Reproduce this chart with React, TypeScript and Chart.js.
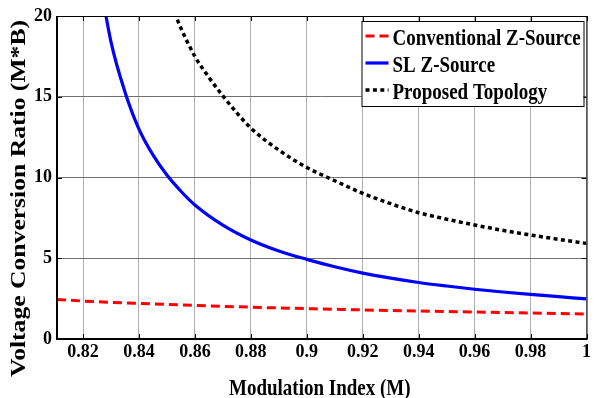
import React, { useEffect, useRef } from "react";
import { Chart, registerables } from "chart.js";

Chart.register(...registerables);

// ---- data ----
const xTickValues = [0.82, 0.84, 0.86, 0.88, 0.9, 0.92, 0.94, 0.96, 0.98, 1];
const yTickValues = [0, 5, 10, 15, 20];
const xMin = 0.8107;
const xMax = 1;
const yMin = 0;
const yMax = 20;

const convM = [0.8107, 0.82, 0.83, 0.84, 0.86, 0.88, 0.9, 0.92, 0.94, 0.96, 0.98, 1.0];
const convRatio = [2.45, 2.35, 2.27, 2.2, 2.08, 1.97, 1.88, 1.8, 1.73, 1.67, 1.61, 1.55];

const slM = [0.825, 0.83, 0.835, 0.84, 0.845, 0.85, 0.855, 0.86, 0.87, 0.88, 0.89, 0.9, 0.91, 0.92, 0.93, 0.94, 0.95, 0.96, 0.97, 0.98, 0.99, 1.0];
const slRatio = [23.2, 18.4, 15.3, 13.0, 11.4, 10.15, 9.15, 8.3, 7.05, 6.13, 5.45, 4.93, 4.47, 4.08, 3.77, 3.5, 3.28, 3.08, 2.91, 2.76, 2.62, 2.48];

const propM = [0.85, 0.8532, 0.855, 0.86, 0.865, 0.87, 0.875, 0.88, 0.89, 0.9, 0.91, 0.92, 0.93, 0.94, 0.95, 0.96, 0.97, 0.98, 0.99, 1.0];
const propRatio = [21.5, 20.0, 19.25, 17.5, 16.2, 15.05, 14.0, 13.06, 11.7, 10.62, 9.8, 9.02, 8.38, 7.82, 7.42, 7.06, 6.73, 6.44, 6.17, 5.92];

const seriesLabels = ["Conventional Z-Source", "SL Z-Source", "Proposed Topology"];
const xTitle = "Modulation Index (M)";
const yTitle = "Voltage Conversion Ratio (M*B)";

const FONT = '"Liberation Serif", "Times New Roman", serif';

const toPoints = (xs: number[], ys: number[]) => xs.map((x, i) => ({ x, y: ys[i] }));

const decorPlugin = {
  id: "decor",
  afterDatasetsDraw(chart: any) {
    const { ctx, chartArea: a, scales } = chart;
    ctx.save();
    // inward tick marks on all four sides
    ctx.strokeStyle = "#000";
    ctx.lineWidth = 1;
    ctx.setLineDash([]);
    ctx.beginPath();
    for (const v of xTickValues) {
      const px = Math.round(scales.x.getPixelForValue(v)) + 0.5;
      ctx.moveTo(px, a.bottom);
      ctx.lineTo(px, a.bottom - 5);
      ctx.moveTo(px, a.top);
      ctx.lineTo(px, a.top + 5);
    }
    for (const v of yTickValues) {
      const py = Math.round(scales.y.getPixelForValue(v)) + 0.5;
      ctx.moveTo(a.left, py);
      ctx.lineTo(a.left + 5, py);
      ctx.moveTo(a.right, py);
      ctx.lineTo(a.right - 5, py);
    }
    ctx.stroke();
    // frame: thin top/right, thick left/bottom
    ctx.beginPath();
    ctx.moveTo(a.left, a.top + 0.5);
    ctx.lineTo(a.right + 0.5, a.top + 0.5);
    ctx.lineTo(a.right + 0.5, a.bottom);
    ctx.stroke();
    ctx.lineWidth = 2;
    ctx.beginPath();
    ctx.moveTo(a.left, a.top);
    ctx.lineTo(a.left, a.bottom);
    ctx.lineTo(a.right + 1, a.bottom);
    ctx.stroke();

    // legend box
    const lx = a.right - 225;
    const ly = a.top + 5;
    const lw = 222;
    const lh = 85;
    ctx.fillStyle = "#fff";
    ctx.fillRect(lx, ly, lw, lh);
    ctx.lineWidth = 1;
    ctx.strokeStyle = "#000";
    ctx.strokeRect(lx + 0.5, ly + 0.5, lw, lh);
    chart.data.datasets.forEach((ds: any, i: number) => {
      const cy = ly + 15 + i * 27;
      ctx.save();
      ctx.strokeStyle = ds.borderColor;
      ctx.lineWidth = ds.borderWidth;
      ctx.setLineDash(ds.borderDash || []);
      ctx.beginPath();
      ctx.moveTo(lx + 4, cy);
      ctx.lineTo(lx + 27, cy);
      ctx.stroke();
      ctx.restore();
      ctx.save();
      ctx.fillStyle = "#000";
      ctx.font = `bold 19px ${FONT}`;
      ctx.textAlign = "left";
      ctx.textBaseline = "alphabetic";
      ctx.translate(lx + 31, cy + 9);
      ctx.scale(1, 1.2);
      ctx.fillText(ds.label, 0, 0);
      ctx.restore();
    });

    // x title
    ctx.save();
    ctx.fillStyle = "#000";
    ctx.font = `bold 19px ${FONT}`;
    ctx.textAlign = "center";
    ctx.textBaseline = "alphabetic";
    ctx.translate((a.left + a.right) / 2 - 2, 395);
    ctx.scale(1, 1.2);
    ctx.fillText(xTitle, 0, 0);
    ctx.restore();

    // y title
    ctx.save();
    ctx.fillStyle = "#000";
    ctx.font = `bold 22px ${FONT}`;
    ctx.textAlign = "center";
    ctx.textBaseline = "middle";
    const w = ctx.measureText(yTitle).width;
    ctx.translate(19, 198.5);
    ctx.rotate(-Math.PI / 2);
    ctx.scale(357 / w, 1);
    ctx.fillText(yTitle, 0, 0);
    ctx.restore();

    ctx.restore();
  },
};

export default function App() {
  const canvasRef = useRef<HTMLCanvasElement | null>(null);

  useEffect(() => {
    const canvas = canvasRef.current;
    if (!canvas) return;
    const chart = new Chart(canvas, {
      type: "line",
      data: {
        datasets: [
          {
            label: seriesLabels[0],
            data: toPoints(convM, convRatio),
            borderColor: "#ff0000",
            borderWidth: 3,
            borderDash: [9, 5],
            pointRadius: 0,
            cubicInterpolationMode: "monotone",
            fill: false,
            clip: 0,
          },
          {
            label: seriesLabels[1],
            data: toPoints(slM, slRatio),
            borderColor: "#0000ff",
            borderWidth: 3.2,
            pointRadius: 0,
            cubicInterpolationMode: "monotone",
            fill: false,
            clip: 0,
          },
          {
            label: seriesLabels[2],
            data: toPoints(propM, propRatio),
            borderColor: "#000000",
            borderWidth: 3.5,
            borderDash: [4, 3.4],
            pointRadius: 0,
            cubicInterpolationMode: "monotone",
            fill: false,
            clip: 0,
          },
        ],
      },
      options: {
        responsive: false,
        animation: false,
        devicePixelRatio: 1,
        layout: { autoPadding: false, padding: { left: 0, top: 16, right: 3, bottom: 0 } },
        plugins: { legend: { display: false }, tooltip: { enabled: false }, title: { display: false } },
        scales: {
          x: {
            type: "linear",
            min: xMin,
            max: xMax,
            border: { display: false },
            grid: { color: "#b0b0b0", lineWidth: 1, drawTicks: false },
            ticks: {
              color: "#000",
              font: { family: FONT, size: 18, weight: "bold" },
              padding: 3,
              maxRotation: 0,
              autoSkip: false,
              callback: (v: any) => String(parseFloat(Number(v).toFixed(2))),
            },
            afterBuildTicks: (scale: any) => {
              scale.ticks = xTickValues.map((value) => ({ value }));
            },
            afterFit: (scale: any) => {
              scale.height = 59;
            },
          },
          y: {
            type: "linear",
            min: yMin,
            max: yMax,
            border: { display: false },
            grid: { color: "#707070", lineWidth: 1, drawTicks: false },
            ticks: {
              color: "#000",
              font: { family: FONT, size: 18, weight: "bold" },
              padding: 5,
              autoSkip: false,
            },
            afterBuildTicks: (scale: any) => {
              scale.ticks = yTickValues.map((value) => ({ value }));
            },
            afterFit: (scale: any) => {
              scale.width = 57;
            },
          },
        },
      },
      plugins: [decorPlugin],
    } as any);
    return () => chart.destroy();
  }, []);

  return (
    <div style={{ position: "absolute", left: 0, top: 0, width: 594, height: 398, background: "#fff" }}>
      <canvas ref={canvasRef} width={594} height={398} style={{ display: "block" }} />
    </div>
  );
}
